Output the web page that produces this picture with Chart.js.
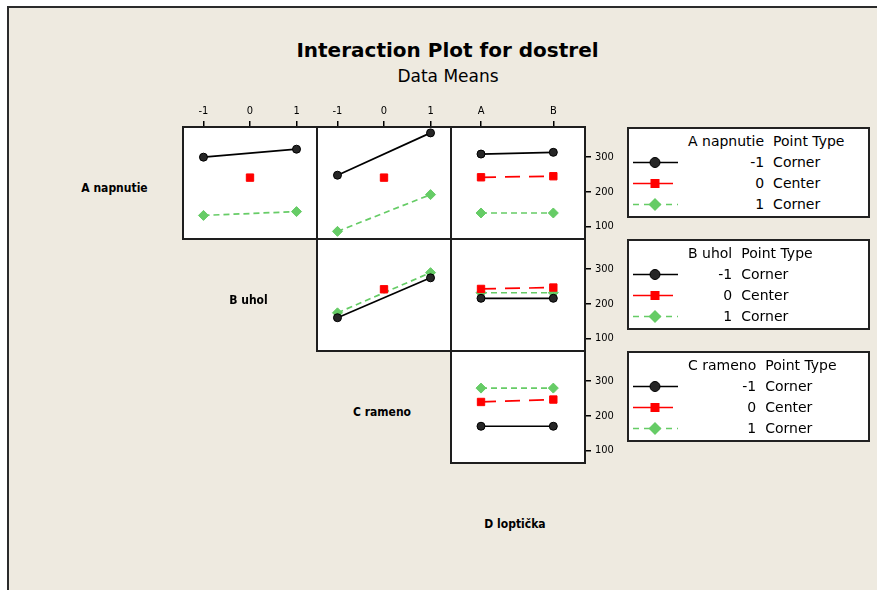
<!DOCTYPE html>
<html>
<head>
<meta charset="utf-8">
<title>Interaction Plot for dostrel</title>
<script src="https://cdn.jsdelivr.net/npm/chart.js@4.4.1/dist/chart.umd.min.js"></script>
<style>
  html, body { margin: 0; padding: 0; background: #fff; }
  #page { position: relative; width: 877px; height: 590px; overflow: hidden; background: #fff;
          font-family: "DejaVu Sans", sans-serif; color: #000; }
  #sheet { position: absolute; left: 7px; top: 6px; width: 900px; height: 620px; background: #EEEAE0;
           border-left: 2px solid #2b2b2b; border-top: 2px solid #2b2b2b; }
  .centered { position: absolute; white-space: nowrap; transform: translate(-50%, -50%); }
  #title { font-weight: bold; font-size: 20px; line-height: 20px; }
  #subtitle { font-size: 17px; line-height: 17px; }
  .factor { font-family: "DejaVu Sans Condensed", "DejaVu Sans", sans-serif; font-weight: bold; font-size: 12px; line-height: 12px; }
  .legend { position: absolute; left: 627px; width: 243px; height: 91px; box-sizing: border-box;
            background: #fff; border: 2px solid #222; }
  .legend svg { position: absolute; left: -2px; top: -2px; }
  .legend table { position: absolute; left: 59px; top: 2px; border-collapse: collapse; font-size: 14px; }
  .legend td { padding: 0; height: 21px; line-height: 21px; white-space: nowrap; }
  .legend td.lvl { text-align: right; padding-right: 9px; }
</style>
</head>
<body>
<div id="page">
  <div id="sheet"></div>
  <div id="title" class="centered" style="left:447.5px; top:50.4px;">Interaction Plot for dostrel</div>
  <div id="subtitle" class="centered" style="left:448px; top:75.8px;">Data Means</div>
</div>
<script>
// Factor names and levels
const factorNames = ['A napnutie', 'B uhol', 'C rameno', 'D loptička'];
const levelNames = ['-1', '0', '1'];
const pointTypes = ['Corner', 'Center', 'Corner'];
const numLevels = [-1, 0, 1];
const dLevels = ['A', 'B'];
const yTickValues = [100, 200, 300];

// Means of dostrel: trace level -1 (m1), center point (c), level 1 (p1)
const aOverB_m1 = [300, null, 323];
const aOverB_c  = [null, 241, null];
const aOverB_p1 = [132, null, 143];

const aOverC_m1 = [248, null, 370];
const aOverC_c  = [null, 241, null];
const aOverC_p1 = [86, null, 192];

const aOverD_m1 = [309, 314];
const aOverD_c  = [242, 245];
const aOverD_p1 = [139, 139];

const bOverC_m1 = [160, null, 275];
const bOverC_c  = [null, 242, null];
const bOverC_p1 = [174, null, 290];

const bOverD_m1 = [216, 216];
const bOverD_c  = [243, 247];
const bOverD_p1 = [232, 232];

const cOverD_m1 = [170, 170];
const cOverD_c  = [240, 247];
const cOverD_p1 = [280, 280];

// Matrix of panels: rows are the trace factor, columns the x factor
const panels = [
  { row: 0, col: 0, levels: numLevels, series: [aOverB_m1, aOverB_c, aOverB_p1] },
  { row: 0, col: 1, levels: numLevels, series: [aOverC_m1, aOverC_c, aOverC_p1] },
  { row: 0, col: 2, levels: dLevels,   series: [aOverD_m1, aOverD_c, aOverD_p1] },
  { row: 1, col: 1, levels: numLevels, series: [bOverC_m1, bOverC_c, bOverC_p1] },
  { row: 1, col: 2, levels: dLevels,   series: [bOverD_m1, bOverD_c, bOverD_p1] },
  { row: 2, col: 2, levels: dLevels,   series: [cOverD_m1, cOverD_c, cOverD_p1] },
];

// Styles for the three trace levels
const traceStyles = [
  { color: '#000000', fill: '#262626', point: 'circle',  radius: 4,   dash: [] },
  { color: '#FF0000', fill: '#FF0000', point: 'rect',    radius: 5.2, dash: [15, 9] },
  { color: '#66CC66', fill: '#66CC66', point: 'rectRot', radius: 5,   dash: [6, 4] },
];

const TICK_FONT = { family: "'DejaVu Sans Condensed', 'DejaVu Sans', sans-serif", size: 11 };
const colEdges = [183, 317, 451, 585];
const rowEdges = [127, 239, 351, 463];
const M = 2, TOP_AXIS = 30, RIGHT_AXIS = 45;
const Y_MIN = 64, Y_MAX = 387;

// White panel face and black frame around each chart area
const panelFrame = {
  id: 'panelFrame',
  beforeDraw(chart) {
    const { ctx, chartArea: a } = chart;
    ctx.save();
    ctx.fillStyle = '#ffffff';
    ctx.fillRect(a.left, a.top, a.right - a.left, a.bottom - a.top);
    ctx.restore();
  },
  afterDraw(chart) {
    const { ctx, chartArea: a } = chart;
    ctx.save();
    ctx.strokeStyle = '#1e1e1e';
    ctx.lineWidth = 2;
    ctx.strokeRect(a.left, a.top, a.right - a.left, a.bottom - a.top);
    ctx.restore();
  }
};

const page = document.getElementById('page');

function buildPanel(p) {
  const showTop = p.row === 0;
  const showRight = p.col === 2;
  const x0 = colEdges[p.col], x1 = colEdges[p.col + 1];
  const y0 = rowEdges[p.row], y1 = rowEdges[p.row + 1];
  const padL = M, padR = showRight ? 0 : M, padT = showTop ? 0 : M, padB = M;
  const extR = showRight ? RIGHT_AXIS : 0, extT = showTop ? TOP_AXIS : 0;
  const left = x0 - padL, top = y0 - padT - extT;
  const w = (x1 - x0) + padL + padR + extR;
  const h = (y1 - y0) + padT + padB + extT;

  const cv = document.createElement('canvas');
  cv.width = w; cv.height = h;
  cv.style.cssText = `position:absolute;left:${left}px;top:${top}px;width:${w}px;height:${h}px;`;
  page.appendChild(cv);

  const isNum = typeof p.levels[0] === 'number';
  const xs = isNum ? p.levels : p.levels.map((_, i) => i);
  const xRange = isNum ? [-1.44, 1.44] : [-0.415, 1.438];

  const datasets = p.series.map((vals, k) => {
    const s = traceStyles[k];
    return {
      data: xs.map((x, i) => ({ x: x, y: vals[i] })),
      borderColor: s.color,
      borderWidth: 1.7,
      borderDash: s.dash,
      pointStyle: s.point,
      pointRadius: s.radius,
      pointBackgroundColor: s.fill,
      pointBorderColor: s.color,
      pointBorderWidth: 1,
      spanGaps: true,
      tension: 0,
      fill: false,
    };
  });

  const tickGrid = { display: true, drawOnChartArea: false, drawTicks: true, tickLength: 6, color: '#000', lineWidth: 1.5 };

  new Chart(cv, {
    type: 'line',
    data: { datasets },
    plugins: [panelFrame],
    options: {
      responsive: false,
      animation: false,
      events: [],
      layout: { padding: { left: padL, right: padR, top: padT, bottom: padB }, autoPadding: false },
      plugins: { legend: { display: false }, tooltip: { enabled: false } },
      scales: {
        x: {
          type: 'linear', position: 'top', display: showTop,
          min: xRange[0], max: xRange[1],
          afterBuildTicks: (s) => { s.ticks = xs.map(v => ({ value: v })); },
          afterFit: (s) => {
            s.height = showTop ? TOP_AXIS : 0;
            s.paddingLeft = 0; s.paddingRight = 0;
          },
          ticks: {
            callback: (v) => isNum ? String(v) : p.levels[v],
            font: TICK_FONT, color: '#000', padding: 3, maxRotation: 0, autoSkip: false
          },
          grid: tickGrid,
          border: { display: false }
        },
        y: {
          type: 'linear', position: 'right', display: showRight,
          min: Y_MIN, max: Y_MAX,
          afterBuildTicks: (s) => { s.ticks = yTickValues.map(v => ({ value: v })); },
          afterFit: (s) => {
            s.width = showRight ? RIGHT_AXIS : 0;
            s.paddingTop = 0; s.paddingBottom = 0;
          },
          ticks: { font: TICK_FONT, color: '#000', padding: 4, autoSkip: false },
          grid: tickGrid,
          border: { display: false }
        }
      }
    }
  });
}

panels.forEach(buildPanel);

// Factor names along the diagonal
const factorSpots = [[114.5, 188.2], [248.5, 300.2], [382, 411.8], [515, 523.8]];
factorNames.forEach((name, i) => {
  const d = document.createElement('div');
  d.className = 'centered factor';
  d.style.left = factorSpots[i][0] + 'px';
  d.style.top = factorSpots[i][1] + 'px';
  d.textContent = name;
  page.appendChild(d);
});

// Legend boxes, one per trace factor
const legendTops = [127, 239, 351];
const rowCenters = [35.5, 56.5, 77.5];
function markerSvg(k, cx, cy) {
  const s = traceStyles[k];
  if (s.point === 'circle') return `<circle cx="${cx}" cy="${cy}" r="5" fill="${s.fill}" stroke="#000" stroke-width="1"/>`;
  if (s.point === 'rect') return `<rect x="${cx - 4.5}" y="${cy - 4.5}" width="9" height="9" fill="${s.fill}"/>`;
  return `<polygon points="${cx - 6.5},${cy} ${cx},${cy - 6.5} ${cx + 6.5},${cy} ${cx},${cy + 6.5}" fill="${s.fill}"/>`;
}
legendTops.forEach((t, f) => {
  const box = document.createElement('div');
  box.className = 'legend';
  box.style.top = t + 'px';
  let svg = '<svg width="70" height="91" xmlns="http://www.w3.org/2000/svg">';
  rowCenters.forEach((cy, k) => {
    const s = traceStyles[k];
    const x2 = k === 1 ? 46 : 51;
    const dash = k === 2 ? ' stroke-dasharray="6 5"' : '';
    svg += `<line x1="6" y1="${cy}" x2="${x2}" y2="${cy}" stroke="${s.color}" stroke-width="1.7"${dash}/>`;
    svg += markerSvg(k, 28, cy);
  });
  svg += '</svg>';
  let rows = `<tr><td class="lvl">${factorNames[f]}</td><td>Point Type</td></tr>`;
  levelNames.forEach((lv, k) => {
    rows += `<tr><td class="lvl">${lv}</td><td>${pointTypes[k]}</td></tr>`;
  });
  box.innerHTML = svg + `<table>${rows}</table>`;
  page.appendChild(box);
});
</script>
</body>
</html>
